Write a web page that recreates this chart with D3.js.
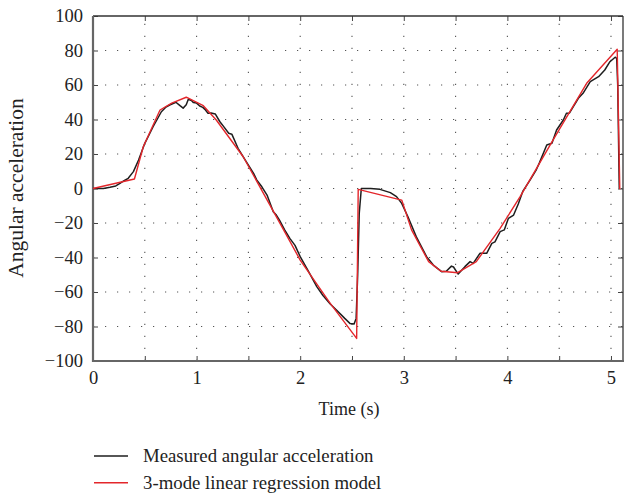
<!DOCTYPE html>
<html><head><meta charset="utf-8">
<script src="https://cdn.jsdelivr.net/npm/d3@7"></script>
<style>body{margin:0;background:#fff}svg{display:block}</style>
</head><body>
<script>
const measuredT = [0,0.1,0.164,0.22,0.26,0.30,0.34,0.39,0.44,0.50,0.58,0.66,0.70,0.74,0.80,0.84,0.87,0.90,0.92,0.95,0.97,1.0,1.03,1.06,1.08,1.11,1.14,1.18,1.225,1.26,1.31,1.34,1.40,1.47,1.55,1.58,1.63,1.68,1.74,1.77,1.80,1.85,1.90,1.95,2.0,2.08,2.16,2.22,2.29,2.35,2.43,2.48,2.52,2.54,2.555,2.57,2.59,2.68,2.77,2.87,2.93,2.98,3.04,3.12,3.22,3.285,3.365,3.41,3.46,3.48,3.525,3.59,3.64,3.67,3.735,3.80,3.85,3.88,3.93,3.97,4.01,4.06,4.105,4.15,4.22,4.28,4.31,4.38,4.43,4.475,4.54,4.57,4.60,4.685,4.73,4.80,4.88,4.94,4.99,5.04,5.055,5.065,5.08];
const measuredV = [0,0,0.7,1.5,3,4.5,5.9,9.8,16.5,26.2,35.8,44.5,47,48.4,50,48,46.6,48.5,51.7,51,49.8,49.5,47.8,47,45.9,43.6,43.8,43.2,38.7,36,32,31.5,23.3,16.5,8.8,5,1,-3.8,-13.5,-15.4,-18.3,-24,-28.9,-33,-39.5,-48,-56.9,-62,-67,-70.4,-75.3,-78.2,-78.6,-75.3,-50,-14.4,0,0,-0.5,-2.4,-4.7,-8.6,-16.4,-27.9,-39.5,-44.4,-48.2,-48,-45,-45.5,-49.6,-45.3,-42.4,-43.4,-37.6,-37.6,-31.8,-30.9,-25,-24,-17.3,-15.4,-9,-1.5,5,11,15,25.2,26.2,33.9,39.7,43.6,43.8,52.3,55.2,61.9,64.8,68.7,73.5,76.1,75.5,60,0];
const modelT = [0,0.40,0.485,0.647,0.76,0.90,1.065,1.19,1.45,1.84,2.0,2.29,2.545,2.56,2.98,3.075,3.24,3.36,3.52,3.70,3.93,4.12,4.44,4.765,5.06,5.085];
const modelV = [0,5.5,24.2,45.5,49.5,52.9,48,39.7,18.4,-24,-41.5,-66.6,-86.9,-0.5,-6.7,-24,-42.4,-48,-48.8,-42.4,-23.1,-5,28.1,61,80.7,-0.5];
const xTicks = [0,1,2,3,4,5];
const xMinorTicks = [0.5,1,1.5,2,2.5,3,3.5,4,4.5,5];
const yTicks = [-100,-80,-60,-40,-20,0,20,40,60,80,100];
const seriesNames = ["Measured angular acceleration","3-mode linear regression model"];
const seriesColors = ["#1e1e1e","#e3262b"];

const W=624,H=496, L=93, T=16, R=623, B=361;
const svg=d3.select("body").append("svg").attr("width",W).attr("height",H);
const x=d3.scaleLinear().domain([0,5.116]).range([L,R]);
const y=d3.scaleLinear().domain([-100,100]).range([B,T]);
const font="'Liberation Serif', 'DejaVu Serif', serif";

// grid
const g=svg.append("g");
g.selectAll(".hg").data(yTicks.filter(v=>v>-100&&v<100)).enter().append("line")
 .attr("x1",L).attr("x2",R).attr("y1",d=>y(d)).attr("y2",d=>y(d))
 .attr("stroke","#555").attr("stroke-width",1.1).attr("stroke-dasharray","1.2,10.8");
g.selectAll(".vg").data(xMinorTicks).enter().append("line")
 .attr("x1",d=>x(d)).attr("x2",d=>x(d)).attr("y1",B).attr("y2",T)
 .attr("stroke","#555").attr("stroke-width",1.1).attr("stroke-dasharray","1.2,10.8");

// axes with inward ticks
const ax=d3.axisBottom(x).tickValues(xMinorTicks.concat([0])).tickSize(-5).tickFormat(d=>xTicks.includes(d)?d3.format("d")(d):"").tickPadding(10);
const axT=d3.axisTop(x).tickValues(xMinorTicks).tickSize(-5).tickFormat("");
const ay=d3.axisLeft(y).tickValues(yTicks).tickSize(-5).tickFormat(d=>d<0?"\u2212"+Math.abs(d):d).tickPadding(10);
const ayR=d3.axisRight(y).tickValues(yTicks).tickSize(-5).tickFormat("");
function style(sel){sel.selectAll("text").attr("font-family",font).attr("font-size",18.5).attr("fill","#222");
 sel.selectAll(".tick line").attr("stroke","#444").attr("stroke-width",1);
 sel.select(".domain").remove();}
svg.append("g").attr("transform",`translate(0,${T})`).call(axT).call(style);
svg.append("g").attr("transform",`translate(${R},0)`).call(ayR).call(style);
svg.append("g").attr("transform",`translate(0,${B})`).call(ax).call(style);
svg.append("g").attr("transform",`translate(${L},0)`).call(ay).call(style);

// border
svg.append("line").attr("x1",L).attr("x2",R).attr("y1",T).attr("y2",T).attr("stroke","#333").attr("stroke-width",1.3);
svg.append("line").attr("x1",R).attr("x2",R).attr("y1",T).attr("y2",B).attr("stroke","#333").attr("stroke-width",1.3);
svg.append("line").attr("x1",L).attr("x2",R+1).attr("y1",B).attr("y2",B).attr("stroke","#666").attr("stroke-width",2.2);
svg.append("line").attr("x1",L).attr("x2",L).attr("y1",T).attr("y2",B+1).attr("stroke","#666").attr("stroke-width",2.2);

// lines
const line=d3.line().x(d=>x(d[0])).y(d=>y(d[1]));
const measured=measuredT.map((t,i)=>[t,measuredV[i]]);
const model=modelT.map((t,i)=>[t,modelV[i]]);
svg.append("path").datum(measured).attr("d",line).attr("fill","none").attr("stroke",seriesColors[0]).attr("stroke-width",1.5).attr("stroke-linejoin","round");
svg.append("path").datum(model).attr("d",line).attr("fill","none").attr("stroke",seriesColors[1]).attr("stroke-width",1.4).attr("stroke-linejoin","round");

// labels
svg.append("text").attr("x",349).attr("y",415).attr("text-anchor","middle").attr("font-family",font).attr("font-size",18).attr("fill","#222").text("Time (s)");
svg.append("text").attr("transform","translate(23,188) rotate(-90)").attr("text-anchor","middle").attr("font-family",font).attr("font-size",21.5).attr("fill","#222").text("Angular acceleration");

// legend
const lg=svg.append("g");
seriesNames.forEach((n,i)=>{
 const yy=456+i*26.7;
 lg.append("line").attr("x1",94).attr("x2",128).attr("y1",yy).attr("y2",yy).attr("stroke",seriesColors[i]).attr("stroke-width",1.4);
 lg.append("text").attr("x",143).attr("y",yy+6).attr("font-family",font).attr("font-size",18.8).attr("fill","#222").text(n);
});
</script>
</body></html>
